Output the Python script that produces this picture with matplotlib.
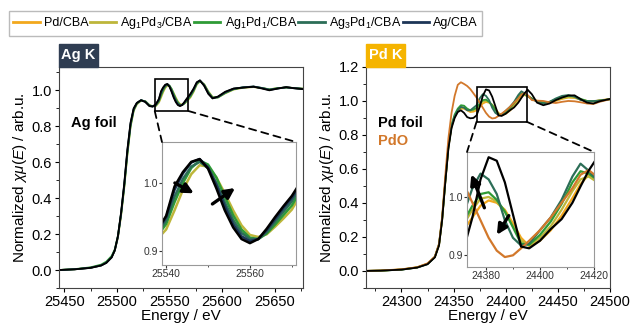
import matplotlib
matplotlib.use('Agg')
import matplotlib.pyplot as plt
from matplotlib.patches import Rectangle, ConnectionPatch
from matplotlib.ticker import MultipleLocator

plt.rcParams['font.family'] = ['Liberation Sans', 'DejaVu Sans']
plt.rcParams['mathtext.fontset'] = 'custom'
plt.rcParams['mathtext.rm'] = 'Liberation Sans'
plt.rcParams['mathtext.it'] = 'Liberation Sans:italic'
plt.rcParams['mathtext.bf'] = 'Liberation Sans:bold'

# ---- Ag K-edge data (energy in eV, normalized mu) ----
ag_energy = [25445, 25460, 25475, 25485, 25490, 25495, 25498, 25501, 25504, 25507,
             25510, 25513, 25516, 25519, 25523, 25527, 25531, 25534, 25537, 25540,
             25542, 25544, 25546, 25548, 25550, 25552, 25554, 25556, 25558, 25560,
             25562, 25564, 25566, 25568, 25570, 25573, 25576, 25579, 25583, 25587,
             25591, 25596, 25603, 25611, 25620, 25630, 25638, 25645, 25653, 25661,
             25668, 25678]
ag_foil = [0.000, 0.004, 0.012, 0.025, 0.040, 0.070, 0.110, 0.190, 0.320, 0.480,
           0.670, 0.820, 0.900, 0.930, 0.945, 0.935, 0.912, 0.910, 0.922, 0.952,
           0.995, 1.016, 1.031, 1.035, 1.021, 0.992, 0.960, 0.935, 0.918, 0.912,
           0.918, 0.933, 0.950, 0.966, 0.981, 1.010, 1.045, 1.055, 1.025, 0.980,
           0.955, 0.965, 0.992, 1.010, 1.015, 1.020, 1.010, 1.000, 1.010, 1.018,
           1.012, 1.006]
ag_cba = [0.000, 0.004, 0.012, 0.025, 0.040, 0.070, 0.108, 0.185, 0.315, 0.475,
          0.665, 0.815, 0.897, 0.930, 0.945, 0.936, 0.913, 0.910, 0.920, 0.950,
          0.990, 1.014, 1.030, 1.035, 1.023, 0.997, 0.966, 0.940, 0.922, 0.915,
          0.918, 0.931, 0.947, 0.963, 0.978, 1.007, 1.043, 1.055, 1.027, 0.982,
          0.956, 0.963, 0.990, 1.009, 1.016, 1.021, 1.012, 1.002, 1.010, 1.017,
          1.012, 1.007]
ag3pd1_ag = [0.000, 0.004, 0.013, 0.026, 0.042, 0.072, 0.110, 0.185, 0.310, 0.468,
             0.655, 0.808, 0.893, 0.928, 0.945, 0.938, 0.915, 0.910, 0.917, 0.945,
             0.980, 1.006, 1.024, 1.031, 1.022, 1.000, 0.972, 0.946, 0.927, 0.918,
             0.918, 0.928, 0.943, 0.958, 0.973, 1.003, 1.040, 1.054, 1.030, 0.986,
             0.958, 0.962, 0.987, 1.008, 1.017, 1.021, 1.013, 1.004, 1.011, 1.016,
             1.012, 1.008]
ag1pd1_ag = [0.000, 0.005, 0.015, 0.030, 0.047, 0.078, 0.115, 0.190, 0.312, 0.465,
             0.650, 0.802, 0.890, 0.926, 0.944, 0.939, 0.917, 0.911, 0.915, 0.940,
             0.972, 1.000, 1.022, 1.033, 1.027, 1.008, 0.980, 0.953, 0.932, 0.920,
             0.918, 0.926, 0.939, 0.953, 0.967, 0.998, 1.036, 1.052, 1.032, 0.990,
             0.960, 0.960, 0.985, 1.006, 1.016, 1.020, 1.013, 1.005, 1.012, 1.016,
             1.013, 1.008]
ag1pd3_ag = [0.000, 0.004, 0.013, 0.027, 0.043, 0.072, 0.108, 0.180, 0.300, 0.455,
             0.640, 0.795, 0.885, 0.922, 0.942, 0.940, 0.918, 0.912, 0.912, 0.932,
             0.960, 0.990, 1.013, 1.026, 1.024, 1.008, 0.985, 0.960, 0.938, 0.924,
             0.921, 0.925, 0.936, 0.948, 0.961, 0.992, 1.032, 1.050, 1.034, 0.994,
             0.963, 0.960, 0.983, 1.004, 1.014, 1.018, 1.012, 1.006, 1.012, 1.015,
             1.013, 1.009]

# ---- Pd K-edge data ----
pd_energy = [24262, 24280, 24300, 24315, 24325, 24332, 24336, 24339, 24342, 24345,
             24348, 24351, 24354, 24357, 24360, 24363, 24366, 24369, 24372, 24375,
             24378, 24381, 24384, 24387, 24390, 24393, 24396, 24400, 24404, 24408,
             24412, 24415, 24418, 24421, 24425, 24430, 24436, 24442, 24448, 24454,
             24460, 24466, 24472, 24478, 24484, 24490, 24500]
pd_foil = [0.000, 0.002, 0.008, 0.020, 0.040, 0.080, 0.150, 0.300, 0.520, 0.720,
           0.840, 0.900, 0.935, 0.945, 0.930, 0.905, 0.898, 0.900, 0.915, 0.965,
           1.030, 1.068, 1.062, 1.025, 0.970, 0.915, 0.912, 0.925, 0.945, 0.962,
           0.990, 1.018, 1.045, 1.066, 1.040, 0.990, 0.975, 0.985, 1.005, 1.020,
           1.032, 1.033, 1.010, 0.990, 0.985, 0.998, 1.012]
pdo = [0.000, 0.003, 0.010, 0.022, 0.045, 0.085, 0.160, 0.320, 0.560, 0.780,
       0.930, 1.030, 1.095, 1.110, 1.100, 1.088, 1.070, 1.045, 1.020, 0.990,
       0.960, 0.930, 0.908, 0.897, 0.900, 0.912, 0.925, 0.943, 0.965, 0.990,
       1.015, 1.038, 1.046, 1.035, 1.005, 1.002, 1.000, 0.992, 0.988, 0.995,
       1.000, 0.998, 0.992, 0.985, 0.982, 0.995, 1.010]
ag3pd1_pd = [0.000, 0.002, 0.008, 0.020, 0.040, 0.082, 0.155, 0.305, 0.525, 0.730,
             0.850, 0.910, 0.945, 0.965, 0.960, 0.945, 0.945, 0.960, 0.975, 1.015,
             1.040, 1.030, 1.005, 0.960, 0.930, 0.917, 0.920, 0.943, 0.965, 0.995,
             1.035, 1.057, 1.045, 1.030, 1.012, 0.995, 0.985, 0.995, 1.015, 1.030,
             1.035, 1.025, 1.005, 0.998, 1.000, 1.002, 1.010]
ag1pd1_pd = [0.000, 0.002, 0.008, 0.021, 0.042, 0.083, 0.158, 0.310, 0.530, 0.735,
             0.860, 0.920, 0.955, 0.975, 0.972, 0.955, 0.945, 0.950, 0.960, 0.985,
             1.005, 1.008, 0.995, 0.975, 0.948, 0.920, 0.918, 0.935, 0.958, 0.988,
             1.025, 1.044, 1.040, 1.030, 1.015, 0.998, 0.990, 0.995, 1.010, 1.022,
             1.030, 1.028, 1.012, 1.000, 0.998, 1.002, 1.010]
ag1pd3_pd = [0.000, 0.002, 0.009, 0.021, 0.042, 0.082, 0.155, 0.305, 0.525, 0.730,
             0.855, 0.912, 0.945, 0.962, 0.962, 0.950, 0.942, 0.945, 0.955, 0.978,
             0.997, 1.000, 0.992, 0.975, 0.950, 0.925, 0.917, 0.930, 0.950, 0.978,
             1.010, 1.030, 1.035, 1.026, 1.012, 0.998, 0.990, 0.993, 1.005, 1.015,
             1.022, 1.020, 1.008, 1.000, 0.998, 1.003, 1.010]
pd_cba = [0.000, 0.002, 0.009, 0.022, 0.043, 0.082, 0.152, 0.300, 0.520, 0.725,
          0.850, 0.905, 0.940, 0.955, 0.955, 0.945, 0.935, 0.937, 0.945, 0.965,
          0.985, 0.994, 0.990, 0.978, 0.955, 0.930, 0.916, 0.925, 0.943, 0.968,
          0.998, 1.022, 1.038, 1.030, 1.015, 1.000, 0.990, 0.990, 1.000, 1.012,
          1.020, 1.018, 1.008, 1.000, 0.998, 1.004, 1.012]

labels = ['Pd/CBA', 'Ag$_1$Pd$_3$/CBA', 'Ag$_1$Pd$_1$/CBA', 'Ag$_3$Pd$_1$/CBA', 'Ag/CBA']
colors = ['#F2A81D', '#BDB63A', '#2E9B35', '#2C6E57', '#1D3557']
c_pdo = '#D2782B'

ylab = 'Normalized $\\chi\\mu(E)$ / arb.u.'

fig = plt.figure(figsize=(6.3, 3.26), dpi=100)
ax1 = fig.add_axes([0.0937, 0.1166, 0.3873, 0.678])
ax2 = fig.add_axes([0.581, 0.1166, 0.3873, 0.678])
ins1 = fig.add_axes([0.2571, 0.1871, 0.2127, 0.3773])
ins2 = fig.add_axes([0.7413, 0.181, 0.2016, 0.3528])

ag_series = [(ag1pd3_ag, colors[1]), (ag1pd1_ag, colors[2]), (ag3pd1_ag, colors[3]),
             (ag_cba, colors[4]), (ag_foil, 'black')]
pd_series = [(pd_cba, colors[0]), (ag1pd3_pd, colors[1]), (ag1pd1_pd, colors[2]),
             (ag3pd1_pd, colors[3]), (pdo, c_pdo), (pd_foil, 'black')]

for vals, c in ag_series:
    ax1.plot(ag_energy, vals, color=c, lw=1.3)
    ins1.plot(ag_energy, vals, color=c, lw=1.8)
for vals, c in pd_series:
    ax2.plot(pd_energy, vals, color=c, lw=1.3)
    ins2.plot(pd_energy, vals, color=c, lw=1.6)

# main axes styling
for ax in (ax1, ax2):
    ax.set_xlabel('Energy / eV', fontsize=11, labelpad=0)
    ax.set_ylabel(ylab, fontsize=11, labelpad=2)
    ax.xaxis.set_major_locator(MultipleLocator(50))
    ax.xaxis.set_minor_locator(MultipleLocator(25))
    ax.yaxis.set_major_locator(MultipleLocator(0.2))
    ax.yaxis.set_minor_locator(MultipleLocator(0.1))
    ax.tick_params(which='both', direction='out', labelsize=10.5, pad=2)
    ax.tick_params(which='major', length=3)
    ax.tick_params(which='minor', length=2)
    ax.yaxis.set_major_formatter(matplotlib.ticker.FormatStrFormatter('%.1f'))
    for s in ax.spines.values():
        s.set_color('#444444')

ax1.set_xlim(25445, 25677)
ax1.set_ylim(-0.1, 1.13)
ax2.set_xlim(24266, 24500)
ax2.set_ylim(-0.1, 1.2)

# insets
for ins in (ins1, ins2):
    ins.tick_params(which='both', direction='out', labelsize=7.5, pad=1, colors='#333333')
    ins.tick_params(which='major', length=2)
    ins.tick_params(which='minor', length=1.5)
    ins.yaxis.set_major_locator(MultipleLocator(0.1))
    ins.yaxis.set_major_formatter(matplotlib.ticker.FormatStrFormatter('%.1f'))
    for s in ins.spines.values():
        s.set_color('#999999')
ins1.set_xlim(25539, 25571)
ins1.set_ylim(0.88, 1.06)
ins1.xaxis.set_major_locator(MultipleLocator(20))
ins1.xaxis.set_minor_locator(MultipleLocator(10))
ins2.set_xlim(24373, 24420)
ins2.set_ylim(0.88, 1.077)
ins2.xaxis.set_major_locator(MultipleLocator(20))
ins2.xaxis.set_minor_locator(MultipleLocator(10))

# zoom boxes and dashed connectors
zooms = [(ax1, ins1, 25536, 25568, 0.885, 1.065), (ax2, ins2, 24372, 24420, 0.878, 1.08)]
for ax, ins, x0, x1, y0, y1 in zooms:
    ax.add_patch(Rectangle((x0, y0), x1 - x0, y1 - y0, fill=False, ec='black', lw=1.2, zorder=5))
    for xa, xb in ((x0, 0), (x1, 1)):
        con = ConnectionPatch(xyA=(xa, y0), coordsA=ax.transData, xyB=(xb, 1), coordsB=ins.transAxes,
                              color='black', lw=1.3, linestyle=(0, (4, 3)))
        fig.add_artist(con)

# arrows in insets
arw = dict(arrowstyle='-|>,head_length=0.6,head_width=0.3', color='black', lw=2.4)
ins1.annotate('', xy=(25547.2, 0.983), xytext=(25541.5, 1.002), arrowprops=arw)
ins1.annotate('', xy=(25557, 0.995), xytext=(25550.5, 0.967), arrowprops=arw)
ins2.annotate('', xy=(24374.2, 1.043), xytext=(24379.8, 0.977), arrowprops=arw)
ins2.annotate('', xy=(24383.5, 0.931), xytext=(24389, 0.972), arrowprops=arw)

# reference labels
ax1.text(0.05, 0.73, 'Ag foil', transform=ax1.transAxes, fontsize=10.5, fontweight='bold')
ax2.text(0.05, 0.73, 'Pd foil', transform=ax2.transAxes, fontsize=10.5, fontweight='bold')
ax2.text(0.05, 0.645, 'PdO', transform=ax2.transAxes, fontsize=10.5, fontweight='bold', color=c_pdo)

# edge tabs
for ax, txt, c in ((ax1, 'Ag K', '#2F3D52'), (ax2, 'Pd K', '#F5B400')):
    ax.add_patch(Rectangle((0, 1.0), 0.158, 0.104, transform=ax.transAxes, color=c,
                           clip_on=False, zorder=6))
    ax.text(0.079, 1.052, txt, transform=ax.transAxes, color='white', fontsize=10.5,
            fontweight='bold', ha='center', va='center', zorder=7)

# legend
handles = [ax2.lines[0], ax1.lines[0], ax1.lines[1], ax1.lines[2], ax1.lines[3]]
leg = fig.legend(handles, labels, loc='upper left', bbox_to_anchor=(9 / 630, 1 - 11 / 326),
                 ncol=5, frameon=True, fancybox=False, edgecolor='#aaaaaa', fontsize=9,
                 handlelength=2.1, handletextpad=0.35, columnspacing=0.1, borderpad=0.35,
                 borderaxespad=0)
for h in leg.get_lines():
    h.set_linewidth(2)

fig.savefig('out.png', dpi=100)
